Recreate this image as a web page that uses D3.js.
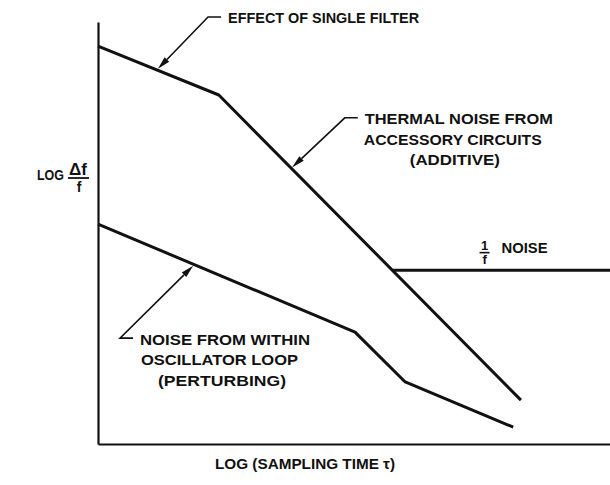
<!DOCTYPE html>
<html>
<head>
<meta charset="utf-8">
<script src="https://cdn.jsdelivr.net/npm/d3@7"></script>
<style>
  html, body { margin: 0; padding: 0; background: #fff; }
  svg text { font-family: "Liberation Sans", Arial, sans-serif; font-weight: bold; fill: #111; }
</style>
</head>
<body>
<svg id="chart" width="610" height="485"></svg>
<script>
// Schematic: frequency stability vs. sampling time (both on log scales, arbitrary units 0-100)
const filterX = [0, 23.6, 82.6];          // effect of single filter / thermal noise curve
const filterY = [94.3, 82.7, 10.4];
const flickerX = [57.6, 100];             // 1/f noise floor
const flickerY = [41.2, 41.2];
const loopX = [0, 50.2, 60.0, 81.1];      // noise from within oscillator loop
const loopY = [52.1, 26.5, 14.7, 4.0];

// Call-outs: which curve, where the arrow touches it, where the leader bends, and the label lines
const noteCurve = ["filter", "filter", "loop"];
const noteTipX = [11.7, 37.9, 18.6];
const noteElbowX = [21.5, 48.2, 4.3];
const noteElbowY = [101.2, 77.3, 25.1];
const noteLines = [
  ["EFFECT OF SINGLE FILTER"],
  ["THERMAL NOISE FROM", "ACCESSORY CIRCUITS", "(ADDITIVE)"],
  ["NOISE FROM WITHIN", "OSCILLATOR LOOP", "(PERTURBING)"]
];
const noteLineWidths = [[191], [188, 178, 90], [170, 157, 128]];
const noteLineDx = [[0], [0, -1, 45], [0, 1, 18]];

const xTitle = "LOG (SAMPLING TIME \u03C4)";
const yTitle = ["LOG", "\u0394f", "f"];

const svg = d3.select("#chart");
const x = d3.scaleLinear().domain([0, 100]).range([98, 610]);
const y = d3.scaleLinear().domain([0, 100]).range([444, 22]);

// axes (plain frame lines, no ticks)
const xAxis = d3.axisBottom(x).tickValues([]).tickSizeOuter(0);
const yAxis = d3.axisLeft(y).tickValues([]).tickSizeOuter(0);
svg.append("g").attr("transform", `translate(0,${y(0)})`).call(xAxis)
  .select(".domain").attr("stroke", "#111").attr("stroke-width", 2.2);
svg.append("g").attr("transform", `translate(${x(0)},0)`).call(yAxis)
  .select(".domain").attr("stroke", "#111").attr("stroke-width", 2.2);

const line = d3.line().x(d => x(d[0])).y(d => y(d[1]));
const curves = {
  filter: d3.zip(filterX, filterY),
  flicker: d3.zip(flickerX, flickerY),
  loop: d3.zip(loopX, loopY)
};
Object.values(curves).forEach(pts => {
  svg.append("path").attr("d", line(pts)).attr("fill", "none")
    .attr("stroke", "#111").attr("stroke-width", 3).attr("stroke-linejoin", "round");
});

// value of a curve at a given x
function curveAt(pts, xv) {
  for (let i = 0; i < pts.length - 1; i++) {
    const [x0, y0] = pts[i], [x1, y1] = pts[i + 1];
    if (xv >= x0 && xv <= x1) return y0 + (y1 - y0) * (xv - x0) / (x1 - x0);
  }
  return pts[pts.length - 1][1];
}

// call-outs with arrowheads
noteCurve.forEach((c, i) => {
  const tx = x(noteTipX[i]);
  const ty = y(curveAt(curves[c], noteTipX[i])) + (c === "loop" ? 1.5 : -1.5);
  const ex = x(noteElbowX[i]), ey = y(noteElbowY[i]);
  const ang = Math.atan2(ty - ey, tx - ex);
  const len = 13, half = 3.2;
  const bx = tx - len * Math.cos(ang), by = ty - len * Math.sin(ang);
  svg.append("path")
    .attr("d", `M${ex + 13},${ey}L${ex},${ey}L${bx},${by}`)
    .attr("fill", "none").attr("stroke", "#111").attr("stroke-width", 1.6);
  svg.append("path")
    .attr("d", `M${tx},${ty}L${bx - half * Math.sin(ang)},${by + half * Math.cos(ang)}` +
               `L${bx + half * Math.sin(ang)},${by - half * Math.cos(ang)}Z`)
    .attr("fill", "#111");
  noteLines[i].forEach((t, j) => {
    svg.append("text")
      .attr("x", ex + 20 + noteLineDx[i][j])
      .attr("y", ey + 6.5 + j * 20.5)
      .attr("font-size", 15.5)
      .attr("textLength", noteLineWidths[i][j])
      .attr("lengthAdjust", "spacingAndGlyphs")
      .text(t);
  });
});

// 1/f label above the noise floor
const fx = x(75.5), fy = y(flickerY[0]);
svg.append("text").attr("x", fx).attr("y", fy - 20).attr("font-size", 13)
  .attr("text-anchor", "middle").text("1");
svg.append("line").attr("x1", fx - 5).attr("x2", fx + 5)
  .attr("y1", fy - 17.5).attr("y2", fy - 17.5).attr("stroke", "#111").attr("stroke-width", 1.6);
svg.append("text").attr("x", fx).attr("y", fy - 6).attr("font-size", 13)
  .attr("text-anchor", "middle").text("f");
svg.append("text").attr("x", fx + 17).attr("y", fy - 17).attr("font-size", 15.5)
  .attr("textLength", 46).attr("lengthAdjust", "spacingAndGlyphs").text("NOISE");

// axis titles
svg.append("text").attr("x", 215).attr("y", 469).attr("font-size", 15.5)
  .attr("textLength", 180).attr("lengthAdjust", "spacingAndGlyphs").text(xTitle);

const ly = 180;
svg.append("text").attr("x", 37).attr("y", ly).attr("font-size", 15)
  .attr("textLength", 27).attr("lengthAdjust", "spacingAndGlyphs").text(yTitle[0]);
svg.append("text").attr("x", 78).attr("y", ly - 5).attr("font-size", 17)
  .attr("text-anchor", "middle").text(yTitle[1]);
svg.append("line").attr("x1", 68).attr("x2", 89).attr("y1", ly - 2).attr("y2", ly - 2)
  .attr("stroke", "#111").attr("stroke-width", 1.8);
svg.append("text").attr("x", 79).attr("y", ly + 12).attr("font-size", 14)
  .attr("text-anchor", "middle").text(yTitle[2]);
</script>
</body>
</html>
